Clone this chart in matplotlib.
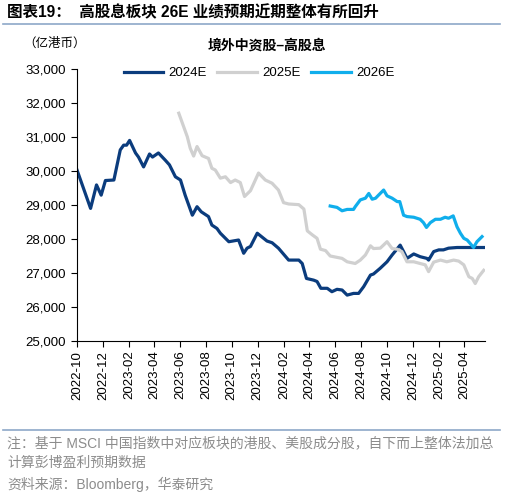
import pandas as pd
import numpy as np
import matplotlib
matplotlib.use("Agg")
import matplotlib.pyplot as plt
import matplotlib.dates as mdates
from matplotlib.ticker import FuncFormatter

plt.rcParams['font.family'] = ['Liberation Sans', 'Noto Sans CJK SC', 'DejaVu Sans']

# 2024E consensus (亿港币)
dates_24 = ["2022-10-01", "2022-11-02", "2022-11-16", "2022-11-27", "2022-12-07", "2022-12-27",
            "2023-01-11", "2023-01-19", "2023-01-26", "2023-02-02", "2023-02-16", "2023-02-23",
            "2023-03-07", "2023-03-21", "2023-03-28", "2023-04-11", "2023-04-27", "2023-05-07",
            "2023-05-21", "2023-06-02", "2023-06-13", "2023-06-30", "2023-07-11", "2023-07-21",
            "2023-08-07", "2023-08-15", "2023-08-27", "2023-09-04", "2023-09-12", "2023-09-24",
            "2023-10-17", "2023-10-29", "2023-11-06", "2023-11-14", "2023-11-30", "2023-12-07",
            "2023-12-23", "2024-01-04", "2024-01-19", "2024-02-12", "2024-03-07", "2024-03-15",
            "2024-03-25", "2024-04-11", "2024-04-19", "2024-04-28", "2024-05-13", "2024-05-24",
            "2024-06-05", "2024-06-17", "2024-06-29", "2024-07-14", "2024-07-26", "2024-08-07",
            "2024-08-23", "2024-08-30", "2024-09-15", "2024-10-01", "2024-10-13", "2024-11-01",
            "2024-11-09", "2024-11-17", "2024-12-03", "2024-12-18", "2025-01-03", "2025-01-07",
            "2025-01-19", "2025-01-31", "2025-02-11", "2025-02-23", "2025-03-15", "2025-05-20"]
vals_24 = [30030, 28900, 29590, 29290, 29720, 29735,
           30620, 30760, 30760, 30900, 30530, 30410,
           30120, 30500, 30410, 30530, 30320, 30180,
           29830, 29735, 29290, 28700, 28950, 28800,
           28660, 28410, 28310, 28170, 28070, 27920,
           27970, 27580, 27730, 27780, 28170, 28100,
           27940, 27890, 27730, 27380, 27380, 27280,
           26840, 26790, 26750, 26550, 26550, 26450,
           26520, 26500, 26350, 26400, 26400, 26600,
           26940, 26970, 27140, 27330, 27530, 27820,
           27630, 27430, 27560, 27480, 27430, 27380,
           27630, 27680, 27680, 27730, 27750, 27750]

# 2025E consensus
dates_25 = ["2023-05-29", "2023-06-18", "2023-06-25", "2023-07-03", "2023-07-11", "2023-07-23",
            "2023-08-07", "2023-08-15", "2023-08-23", "2023-09-04", "2023-09-16", "2023-09-28",
            "2023-10-09", "2023-10-21", "2023-10-31", "2023-11-14", "2023-12-03", "2023-12-19",
            "2024-01-04", "2024-01-19", "2024-01-31", "2024-02-12", "2024-03-07", "2024-03-19",
            "2024-03-27", "2024-04-08", "2024-04-19", "2024-04-27", "2024-05-09", "2024-05-20",
            "2024-06-05", "2024-06-17", "2024-06-29", "2024-07-18", "2024-07-30", "2024-08-11",
            "2024-08-23", "2024-08-30", "2024-09-15", "2024-10-01", "2024-10-13", "2024-10-25",
            "2024-11-05", "2024-11-17", "2024-12-03", "2024-12-18", "2024-12-30", "2025-01-07",
            "2025-01-19", "2025-02-04", "2025-02-19", "2025-03-07", "2025-03-19", "2025-03-31",
            "2025-04-12", "2025-04-20", "2025-04-27", "2025-05-05", "2025-05-17"]
vals_25 = [31700, 31010, 30670, 30440, 30720, 30450,
           30370, 30080, 30030, 29790, 29830, 29660,
           29735, 29660, 29250, 29420, 29940, 29735,
           29640, 29440, 29070, 29030, 29010, 28880,
           28240, 28120, 28020, 27700, 27660, 27500,
           27460, 27430, 27330, 27280, 27380, 27530,
           27800, 27720, 27730, 27920, 27720, 27700,
           27630, 27330, 27330, 27280, 27240, 27040,
           27320, 27380, 27330, 27380, 27350, 27240,
           26890, 26840, 26690, 26890, 27080]

# 2026E consensus
dates_26 = ["2024-05-20", "2024-06-05", "2024-06-17", "2024-06-29", "2024-07-14", "2024-07-18",
            "2024-07-30", "2024-08-11", "2024-08-19", "2024-08-27", "2024-09-04", "2024-09-11",
            "2024-09-23", "2024-10-01", "2024-10-13", "2024-10-25", "2024-10-31", "2024-11-09",
            "2024-11-17", "2024-12-03", "2024-12-18", "2024-12-26", "2025-01-02", "2025-01-11",
            "2025-01-23", "2025-02-04", "2025-02-15", "2025-02-23", "2025-03-06", "2025-03-15",
            "2025-03-23", "2025-03-31", "2025-04-08", "2025-04-15", "2025-04-23", "2025-05-01",
            "2025-05-13"]
vals_26 = [28970, 28930, 28830, 28870, 28870, 28950,
           29150, 29200, 29340, 29170, 29200, 29290,
           29440, 29270, 29200, 29100, 29100, 28700,
           28660, 28640, 28580, 28480, 28340, 28480,
           28580, 28580, 28640, 28610, 28680, 28360,
           28170, 28020, 27970, 27870, 27750, 27920,
           28070]

series_names = ["2024E", "2025E", "2026E"]
series_colors = ["#0B3C7D", "#D0D0D0", "#10AEEC"]

fig = plt.figure(figsize=(5.05, 4.96), dpi=100)
ax = fig.add_axes([77 / 505, 1 - 341 / 496, 408 / 505, 272 / 496])

for d, v, name, c in zip([dates_24, dates_25, dates_26], [vals_24, vals_25, vals_26],
                         series_names, series_colors):
    ax.plot(pd.to_datetime(d), v, color=c, lw=2.3, label=name, solid_joinstyle="round")

ax.set_ylim(25000, 33000)
ax.set_yticks(np.arange(25000, 33001, 1000))
ax.yaxis.set_major_formatter(FuncFormatter(lambda v, p: f"{int(v):,}"))
ax.set_xlim(pd.Timestamp("2022-10-01"), pd.Timestamp("2025-05-20"))
ax.xaxis.set_major_locator(mdates.MonthLocator(bymonth=[2, 4, 6, 8, 10, 12]))
ax.xaxis.set_major_formatter(mdates.DateFormatter("%Y-%m"))
ax.tick_params(axis="x", labelrotation=90, labelsize=9.5, length=4, width=0.8, pad=3)
ax.tick_params(axis="y", labelsize=9.5, length=4, width=0.8, pad=4)
for s in ["top", "right"]:
    ax.spines[s].set_visible(False)
for s in ["left", "bottom"]:
    ax.spines[s].set_linewidth(0.8)

ax.legend(loc="center", bbox_to_anchor=(0.446, 0.985), ncol=3, frameon=False, fontsize=9.5,
          handlelength=3.0, handletextpad=0.4, columnspacing=0.8)

# header and notes
fig.text(7 / 505, 1 - 13 / 496, "图表19：  高股息板块 26E 业绩预期近期整体有所回升",
         fontsize=11.2, fontweight="bold", va="center", ha="left")
fig.add_artist(plt.Line2D([3 / 505, 500 / 505], [1 - 24 / 496] * 2, color="#8EA8C8", lw=1.2))
fig.text(267 / 505, 1 - 46 / 496, "境外中资股–高股息", fontsize=10, fontweight="bold",
         ha="center", va="center")
fig.text(55 / 505, 1 - 44 / 496, "（亿港币）", fontsize=9, ha="center", va="center")

fig.add_artist(plt.Line2D([3 / 505, 500 / 505], [1 - 430 / 496] * 2, color="#8EA8C8", lw=1.2))
note_color = "#8C8C8C"
fig.text(7 / 505, 1 - 443 / 496, "注：基于 MSCI 中国指数中对应板块的港股、美股成分股，自下而上整体法加总",
         fontsize=10, color=note_color, va="center", ha="left")
fig.text(7 / 505, 1 - 463 / 496, "计算彭博盈利预期数据", fontsize=10, color=note_color,
         va="center", ha="left")
fig.text(7 / 505, 1 - 484 / 496, "资料来源：Bloomberg，华泰研究", fontsize=10, color=note_color,
         va="center", ha="left")

fig.savefig("out.png", dpi=100)
